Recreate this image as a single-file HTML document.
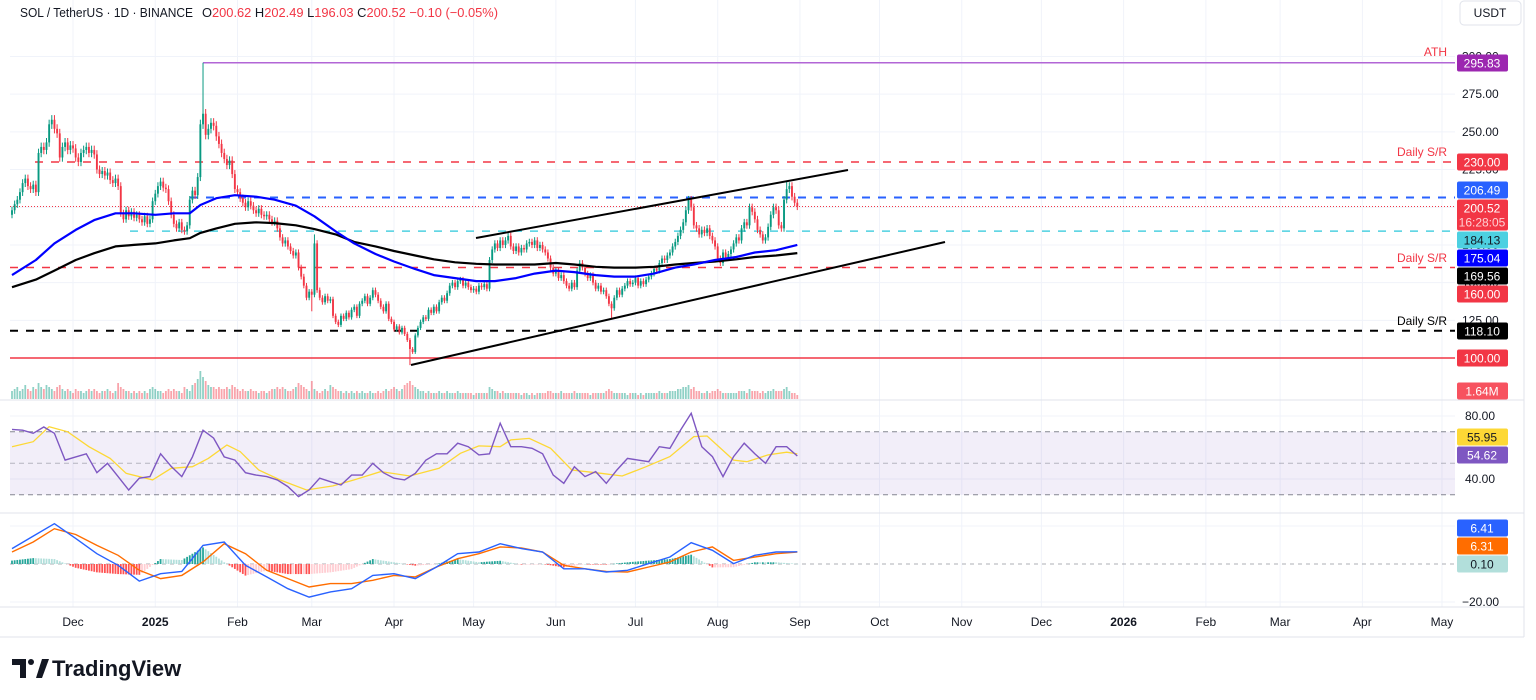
<!DOCTYPE html>
<html><head><meta charset="utf-8">
<style>
html,body{margin:0;padding:0;background:#fff;}
svg{display:block;font-family:"Liberation Sans",sans-serif;}
</style></head>
<body>
<svg id="chart" width="1536" height="700" viewBox="0 0 1536 700" xmlns="http://www.w3.org/2000/svg">
  <rect x="0" y="0" width="1536" height="700" fill="#ffffff"/>
  <g id="grid"></g>
  <g id="levels"></g>
  <g id="volume"></g>
  <g id="candles"></g>
  <g id="mas"></g>
  <g id="trend">
    <line x1="476" y1="238" x2="848" y2="170" stroke="#000" stroke-width="2"/>
    <line x1="411" y1="365" x2="945" y2="242" stroke="#000" stroke-width="2"/>
  </g>
  <g id="rsi"></g>
  <g id="macd"></g>
  <g id="axes"></g>

  <g font-size="13">
    <text x="20" y="17" fill="#131722" textLength="173" lengthAdjust="spacingAndGlyphs">SOL / TetherUS · 1D · BINANCE</text>
    <text x="202" y="17" fill="#131722" textLength="296" lengthAdjust="spacingAndGlyphs">O<tspan fill="#f23645">200.62</tspan>  H<tspan fill="#f23645">202.49</tspan>  L<tspan fill="#f23645">196.03</tspan>  C<tspan fill="#f23645">200.52</tspan>  <tspan fill="#f23645">−0.10 (−0.05%)</tspan></text>
  </g>
  <g>
    <rect x="1460" y="1" width="61" height="24" rx="4" fill="#fff" stroke="#e0e3eb"/>
    <text x="1490" y="17" font-size="12" fill="#131722" text-anchor="middle">USDT</text>
  </g>

  <g>
    <path d="M12 659 h14 v19 h-6 v-13 h-8z" fill="#131722"/>
    <circle cx="31" cy="662" r="3" fill="#131722"/>
    <path d="M36 678 l6 -19 h7 l-7 19z" fill="#131722"/>
    <text x="52" y="676" font-size="22" font-weight="bold" fill="#131722">TradingView</text>
  </g>
</svg>
<script>
// ---------- data ----------
const closes = [198,202,205,210,216,219,214,212,215,210,236,240,238,243,255,258,252,249,233,240,243,238,241,239,233,230,236,238,240,236,238,235,225,222,224,221,223,218,216,219,214,196,192,198,194,197,193,195,192,190,194,189,192,204,209,214,217,213,212,204,195,189,186,190,185,184,188,205,211,208,220,255,262,248,252,256,254,247,242,236,232,228,231,222,212,210,206,203,200,204,201,198,196,199,195,194,195,192,190,191,186,180,176,178,174,171,168,170,160,154,148,140,144,142,176,145,140,137,141,138,139,128,124,122,128,126,130,127,132,134,128,136,138,141,136,140,145,142,138,134,131,136,126,124,119,121,117,120,116,112,106,104,115,120,124,127,126,132,130,134,131,137,140,138,143,148,150,147,151,152,148,150,147,145,146,144,148,147,149,146,165,172,176,173,178,175,178,181,174,171,174,170,173,172,176,177,175,178,173,175,172,170,166,160,156,158,153,155,151,148,146,150,147,158,163,160,156,153,155,150,146,148,144,145,141,136,133,140,145,142,146,148,151,149,150,153,148,151,149,152,154,156,159,158,163,166,165,168,170,174,177,181,185,190,198,205,200,188,186,182,185,183,186,181,178,174,166,163,170,167,169,172,176,180,178,186,190,188,200,197,192,185,182,178,180,187,195,200,198,188,186,205,212,214,207,203,200.52];
const firstOpen = 195;
const highOverrides = {72: 295.83, 114: 182, 255: 207.5, 292: 217.2};
const lowOverrides = {150: 95.3, 113: 131, 226: 126};
const volumes = [4,5,6,4,5,7,5,4,6,5,8,6,5,7,6,5,4,6,7,5,4,5,4,3,5,4,4,3,4,5,4,5,4,3,4,4,5,4,3,4,8,6,5,4,4,3,4,3,4,3,4,3,5,6,5,4,4,3,4,5,4,5,4,4,3,6,5,4,7,8,10,14,11,9,7,6,6,5,6,5,5,6,5,7,6,5,4,5,4,4,5,4,4,3,4,4,3,4,5,5,6,5,6,5,4,4,5,6,8,7,6,5,4,9,5,4,3,4,5,4,7,6,5,4,4,3,4,3,4,3,4,3,4,3,3,4,3,3,4,3,4,5,4,5,6,5,4,5,7,8,9,7,6,5,4,4,3,4,3,3,3,4,3,3,4,3,3,3,4,3,3,3,3,3,2,3,3,3,3,3,6,5,4,4,3,4,3,3,3,3,3,3,2,3,3,2,3,2,3,3,3,3,4,4,3,3,3,4,3,3,3,3,4,3,3,3,3,3,2,3,3,3,3,3,4,5,4,3,3,3,3,3,2,3,3,3,2,3,2,3,3,3,3,3,4,3,3,3,4,4,4,5,5,6,6,7,5,6,4,4,3,3,4,3,4,4,5,4,3,3,3,3,3,3,4,4,4,3,5,4,4,4,3,4,3,4,4,5,4,4,4,5,6,4,3,3,2];
const maIdx = [0,9,16,24,31,39,46,54,61,67,71,77,84,92,99,107,114,122,129,137,144,152,159,167,175,182,190,197,205,212,220,227,235,242,250,257,265,273,280,288,296];
const maBlue = [155,165,176,185,191.5,196,196,195,196,196,201.5,206,208,207,205,201,194,184,176,169,164,159,155,153,151,151,153,156,158,157,155,154,154,156,160,162,165,167,170,171.5,175.04];
const maBlack = [147,152,158,165,169.5,174,175,176,178,179.5,183,186,189,190,189.5,188,185.5,182,177,174,171,168,165.5,163.5,162.5,162,162,162,163,162,160.5,160,160,160.5,162,163,164,165.5,167,168,169.56];
const rsiStride = 4;
const rsiVals = [71.5,71,69,73,69,52,54,56,44,50,41.5,33,40.5,41.5,56,48,41.5,54,71,66,54,52,44,42.5,41.5,39.4,35.2,28.8,33,40.5,38.3,36.2,42.5,42.5,50,44,40.5,39.4,43.6,52,56,56,62.7,60.5,55.3,56,75.4,60.5,60.5,59.5,56,42.5,37.3,47.8,41.5,44.7,37.3,45.7,53.1,52,51,60.5,59.5,71.1,81.7,60.5,54.2,41.5,54.2,62.7,56,50,60.5,60.5,54.62];
const rsiMaIdx = [0,8,14,21,29,37,43,53,60,68,74,81,86,93,101,111,121,129,139,150,161,169,176,184,188,195,203,211,222,230,239,248,257,262,272,277,285,292,296];
const rsiMaVals = [60.5,63.7,73.2,70,60.5,53.1,43.6,39.4,46.8,47.8,53.1,61.6,57.4,45.7,39.4,33,35.6,39.4,44.7,41.9,46.8,56.3,61,60.5,64.8,65.8,59.5,45.7,43.6,41.9,47.8,54.2,66.9,67.3,52,51,55.3,57,55.95];
const macdStride = 8;
const macdVals = [8.1,14.7,21.2,13.5,5.4,-0.7,-9,-5.1,-3.9,9.8,11.6,-0.7,-6.8,-13,-17.4,-14.7,-13,-6,-5.1,-7.7,-1.6,5.4,6.3,10.7,8.1,6.3,-2.5,-2.5,-4.2,-3.3,0.2,3.7,11.2,7.2,0.2,4.6,6.3,6.41];
const signalVals = [6.3,11.6,18.6,15.5,9.8,4.6,-3.3,-7.7,-6,1.1,10.7,5.4,-3.3,-7.7,-12.1,-10.3,-10.3,-8.6,-6,-6.8,-1.6,2.8,5.4,9,8.4,6.3,-0.7,-2.5,-3.9,-4.2,-1.6,1.1,6.3,9,1.9,3.7,5.4,6.31];
const monthLabels = ["Dec","2025","Feb","Mar","Apr","May","Jun","Jul","Aug","Sep","Oct","Nov","Dec","2026","Feb","Mar","Apr","May"];
const monthDayOffsets = [23,54,85,113,144,174,205,235,266,297,327,358,388,419,450,478,509,539];
const priceTicks = [300,275,250,225,200,175,150,125,100];

// ---------- scales ----------
const X0 = 12, DX = 2.653;
const xOf = i => X0 + i * DX;
const yP = p => 162 - (p - 230) * 1.508;
const yR = v => 416 + (80 - v) * 1.575;
const yM = v => 564 - v * 1.9;
const NS = "http://www.w3.org/2000/svg";
function mk(tag, attrs, parent) {
  const e = document.createElementNS(NS, tag);
  for (const k in attrs) e.setAttribute(k, attrs[k]);
  parent.appendChild(e);
  return e;
}
const G = id => document.getElementById(id);

// ---------- grid ----------
const grid = G('grid');
monthDayOffsets.forEach((d, k) => {
  const x = xOf(d);
  const l = mk('line', {x1: x, y1: 0, x2: x, y2: 607, stroke: '#f0f3fa', 'stroke-width': 1}, grid);
  
  
});
priceTicks.forEach(p => {
  const l = mk('line', {x1: 10, y1: yP(p), x2: 1455, y2: yP(p), stroke: '#f0f3fa'}, grid);
  
  
});
[80, 40].forEach(v => mk('line', {x1: 10, y1: yR(v), x2: 1455, y2: yR(v), stroke: '#f0f3fa'}, grid));
[20, -20].forEach(v => mk('line', {x1: 10, y1: yM(v), x2: 1455, y2: yM(v), stroke: '#f0f3fa'}, grid));

// ---------- levels ----------
const lv = G('levels');
function hline(name, y, x1, color, dash, w) {
  const l = mk('line', {x1: x1, y1: y, x2: 1455, y2: y, stroke: color, 'stroke-width': w || 1.5}, lv);
  if (dash) l.setAttribute('stroke-dasharray', dash);
  
  
}
hline('ath-line', yP(295.83), xOf(72), '#b266d6', null, 1.5);
hline('resistance-230', yP(230), 35, '#f23645', '8,8');
hline('level-206', yP(206.49), 190, '#2962ff', '8,8', 2);
hline('current-price-line', yP(200.52), 10, '#f23645', '1,2', 1);
hline('level-184', yP(184.13), 130, '#4dd0e1', '8,8');
hline('support-160', yP(160), 10, '#f23645', '8,8');
hline('support-118', yP(118.10), 10, '#000000', '8,8', 2);
hline('support-100', yP(100), 10, '#f23645', null, 1.5);
function ltext(name, x, y, txt, color) {
  const t = mk('text', {x: x, y: y, fill: color, 'font-size': 12, 'text-anchor': 'end'}, lv);
  t.textContent = txt;
  
  
}
ltext('ath-label', 1447, 56, 'ATH', '#f23645');
ltext('daily-sr-label-230', 1447, 156, 'Daily S/R', '#f23645');
ltext('daily-sr-label-160', 1447, 262, 'Daily S/R', '#f23645');
ltext('daily-sr-label-118', 1447, 325, 'Daily S/R', '#000000');

// ---------- volume ----------
const vg = G('volume');
volumes.forEach((v, i) => {
  const o = i === 0 ? firstOpen : closes[i - 1];
  const up = closes[i] >= o;
  const h = v * 2;
  const r = mk('rect', {x: xOf(i) - 0.9, y: 399 - h, width: 1.8, height: h, fill: up ? '#089981' : '#f23645', opacity: 0.45}, vg);
  
  
});

// ---------- candles ----------
const cg = G('candles');
closes.forEach((c, i) => {
  const o = i === 0 ? firstOpen : closes[i - 1];
  const up = c >= o;
  const col = up ? '#089981' : '#f23645';
  const hi = highOverrides[i] !== undefined ? highOverrides[i] : Math.max(o, c) * 1.012;
  const lo = lowOverrides[i] !== undefined ? lowOverrides[i] : Math.min(o, c) * 0.988;
  const x = xOf(i);
  const w = mk('line', {x1: x, y1: yP(hi), x2: x, y2: yP(lo), stroke: col, 'stroke-width': 1}, cg);
  
  
  const yt = yP(Math.max(o, c)), yb = yP(Math.min(o, c));
  const b = mk('rect', {x: x - 0.95, y: yt, width: 1.9, height: Math.max(1, yb - yt), fill: col}, cg);
  
  
});

// ---------- moving averages ----------
const mg = G('mas');
function path(idx, vals, xf, yf) {
  return idx.map((d, k) => (k ? 'L' : 'M') + xf(d).toFixed(1) + ' ' + yf(vals[k]).toFixed(1)).join(' ');
}
const p200 = mk('path', {d: path(maIdx, maBlack, xOf, yP), fill: 'none', stroke: '#000', 'stroke-width': 2.2, 'stroke-linejoin': 'round'}, mg);


const p100 = mk('path', {d: path(maIdx, maBlue, xOf, yP), fill: 'none', stroke: '#0000ff', 'stroke-width': 2.2, 'stroke-linejoin': 'round'}, mg);



// ---------- RSI ----------
const rg = G('rsi');
const band = mk('rect', {x: 10, y: yR(70), width: 1445, height: yR(30) - yR(70), fill: '#7e57c2', opacity: 0.1}, rg);


[70, 50, 30].forEach(v => {
  const l = mk('line', {x1: 10, y1: yR(v), x2: 1455, y2: yR(v), stroke: '#787b86', 'stroke-dasharray': '5,4', 'stroke-width': 1, opacity: v === 50 ? 0.5 : 0.9}, rg);
  
  
});
const rsiIdx = rsiVals.map((v, k) => k * rsiStride);
const rma = mk('path', {d: path(rsiMaIdx, rsiMaVals, xOf, yR), fill: 'none', stroke: '#fdd835', 'stroke-width': 1.3}, rg);


const rl = mk('path', {d: path(rsiIdx, rsiVals, xOf, yR), fill: 'none', stroke: '#7e57c2', 'stroke-width': 1.4}, rg);



// ---------- MACD ----------
const mcg = G('macd');
const zl = mk('line', {x1: 10, y1: yM(0), x2: 1455, y2: yM(0), stroke: '#787b86', 'stroke-dasharray': '4,4', opacity: 0.6}, mcg);


function interp(vals, stride, i) {
  const k = Math.min(Math.floor(i / stride), vals.length - 2);
  const t = (i - k * stride) / stride;
  return vals[k] + (vals[k + 1] - vals[k]) * t;
}
let prevH = 0;
closes.forEach((c, i) => {
  const h = interp(macdVals, macdStride, i) - interp(signalVals, macdStride, i);
  const grow = Math.abs(h) >= Math.abs(prevH);
  const col = h >= 0 ? (grow ? '#26a69a' : '#b2dfdb') : (grow ? '#ff5252' : '#ffcdd2');
  const y1 = yM(Math.max(0, h)), y2 = yM(Math.min(0, h));
  const r = mk('rect', {x: xOf(i) - 0.9, y: y1, width: 1.8, height: Math.max(0.5, y2 - y1), fill: col}, mcg);
  
  
  prevH = h;
});
const macdIdx = macdVals.map((v, k) => k * macdStride);
const sl = mk('path', {d: path(macdIdx, signalVals, xOf, yM), fill: 'none', stroke: '#ff6d00', 'stroke-width': 1.4}, mcg);


const ml = mk('path', {d: path(macdIdx, macdVals, xOf, yM), fill: 'none', stroke: '#2962ff', 'stroke-width': 1.4}, mcg);



// ---------- axes ----------
const ax = G('axes');
[[0, 400, 1524, 400], [0, 513, 1524, 513], [0, 607, 1524, 607], [1524, 0, 1524, 637], [0, 637, 1524, 637]].forEach(a => {
  mk('line', {x1: a[0], y1: a[1], x2: a[2], y2: a[3], stroke: '#e0e3eb', 'stroke-width': 1}, ax);
});
priceTicks.forEach(p => {
  const t = mk('text', {x: 1462, y: yP(p) + 4, 'font-size': 12, fill: '#131722'}, ax);
  t.textContent = p.toFixed(2);
  
  
});
[[80, '80.00'], [40, '40.00']].forEach(a => {
  const t = mk('text', {x: 1465, y: yR(a[0]) + 4, 'font-size': 12, fill: '#131722'}, ax);
  t.textContent = a[1];
  
  
});
const tm = mk('text', {x: 1462, y: yM(-20) + 4, 'font-size': 12, fill: '#131722'}, ax);
tm.textContent = '−20.00';


monthLabels.forEach((m, k) => {
  const bold = m === '2025' || m === '2026';
  const t = mk('text', {x: xOf(monthDayOffsets[k]), y: 626, 'font-size': 12, fill: '#131722', 'text-anchor': 'middle', 'font-weight': bold ? 'bold' : 'normal'}, ax);
  t.textContent = m;
  
  
});
function tag(name, cy, txt, bg, fg, h) {
  h = h || 17;
  const g = mk('g', {}, ax);
  
  
  mk('rect', {x: 1457, y: cy - h / 2, width: 51, height: h, rx: 2, fill: bg}, g);
  const lines = txt.split('|');
  lines.forEach((s, j) => {
    const t = mk('text', {x: 1482, y: cy - (lines.length - 1) * 7 + j * 14 + 4.5, 'font-size': 12, fill: j ? '#ffd0d4' : fg, 'text-anchor': 'middle'}, g);
    t.textContent = s;
  });
}
tag('ath-price-tag', 63, '295.83', '#9c27b0', '#fff');
tag('price-tag-230', 162, '230.00', '#f23645', '#fff');
tag('price-tag-206', 190, '206.49', '#2962ff', '#fff');
tag('current-price-tag', 215, '200.52|16:28:05', '#f23645', '#fff', 31);
tag('price-tag-184', 240, '184.13', '#4dd0e1', '#131722');
tag('price-tag-ma100', 258, '175.04', '#0000ff', '#fff');
tag('price-tag-ma200', 276, '169.56', '#000000', '#fff');
tag('price-tag-160', 294, '160.00', '#f23645', '#fff');
tag('price-tag-118', 331, '118.10', '#000000', '#fff');
tag('price-tag-100', 358, '100.00', '#f23645', '#fff');
tag('volume-tag', 391, '1.64M', '#f7525f', '#fff');
tag('rsi-ma-tag', 437, '55.95', '#fdd835', '#131722');
tag('rsi-tag', 455, '54.62', '#7e57c2', '#fff');
tag('macd-tag', 528, '6.41', '#2962ff', '#fff');
tag('signal-tag', 546, '6.31', '#ff6d00', '#fff');
tag('histogram-tag', 564, '0.10', '#b2dfdb', '#131722');
</script>
</body></html>
